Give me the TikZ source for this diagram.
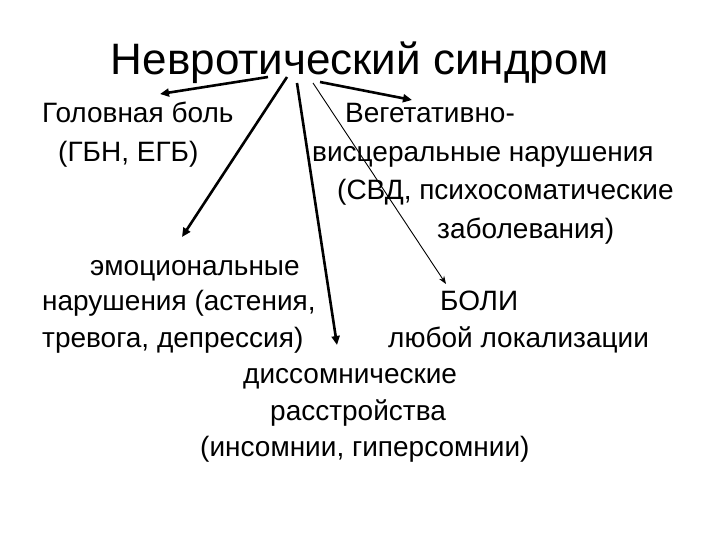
\documentclass[tikz,border=0pt]{standalone}
\usepackage{fontspec}
\setmainfont{Liberation Sans}
\usetikzlibrary{arrows.meta}
\begin{document}
\begin{tikzpicture}[x=1pt,y=-1pt,
  txt/.style={anchor=base west,inner sep=0pt,font=\fontsize{28}{32}\selectfont},
  arr/.style={line width=2.6pt,-{Triangle[length=9pt,width=8pt]}},
  thin/.style={line width=0.9pt,-{Stealth[length=8pt,width=6pt]}}]
\useasboundingbox (0,0) rectangle (720,540);
\node[anchor=base,inner sep=0pt,font=\fontsize{44}{48}\selectfont] (title) at (360,75) {Невротический синдром};
\node[txt] (h1) at (42,123) {Головная боль};
\node[txt] (h2) at (58,162) {(ГБН, ЕГБ)};
\node[txt] (v1) at (345,123) {Вегетативно-};
\node[txt] (v2) at (312,162) {висцеральные нарушения};
\node[txt] (v3) at (337,200) {(СВД, психосоматические};
\node[txt] (v4) at (437,238) {заболевания)};
\node[txt] (e1) at (90,275) {эмоциональные};
\node[txt] (e2) at (42,310) {нарушения (астения,};
\node[txt] (e3) at (42,347) {тревога, депрессия)};
\node[txt] (b1) at (440,310) {БОЛИ};
\node[txt] (b2) at (388,347) {любой локализации};
\node[txt] (d1) at (243,383) {диссомнические};
\node[txt] (d2) at (270,420) {расстройства};
\node[txt] (d3) at (200,456) {(инсомнии, гиперсомнии)};
\coordinate (s1) at (268,77); \coordinate (t1) at (160,94);
\coordinate (s2) at (287,77); \coordinate (t2) at (182,237);
\coordinate (s3) at (297,83); \coordinate (t3) at (337,345);
\coordinate (s4) at (313,83); \coordinate (t4) at (446,284);
\coordinate (s5) at (320,82); \coordinate (t5) at (412,100);
\draw[arr] (s1) -- (t1);
\draw[arr] (s2) -- (t2);
\draw[arr] (s3) -- (t3);
\draw[thin] (s4) -- (t4);
\draw[arr] (s5) -- (t5);
\end{tikzpicture}
\end{document}
